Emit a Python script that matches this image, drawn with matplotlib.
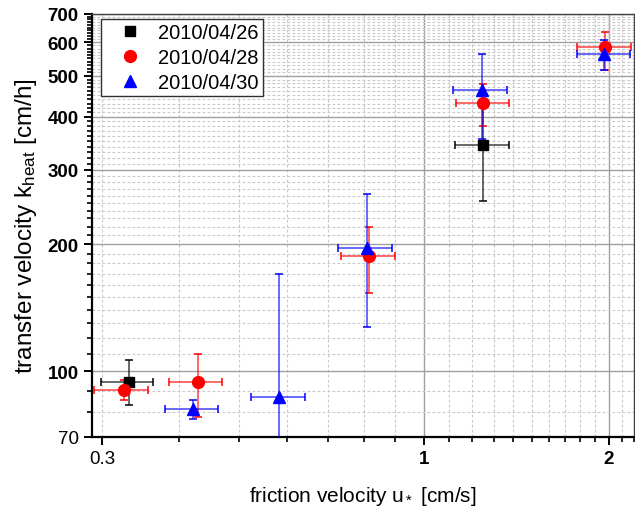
import matplotlib
matplotlib.use('Agg')
import matplotlib.pyplot as plt
import numpy as np

plt.rcParams['font.family'] = ['Liberation Sans', 'DejaVu Sans']
plt.rcParams['mathtext.fontset'] = 'custom'
plt.rcParams['mathtext.rm'] = 'Liberation Sans'
plt.rcParams['mathtext.it'] = 'Liberation Sans'

labels = ['2010/04/26', '2010/04/28', '2010/04/30']

# 2010/04/26
x26 = [0.331, 1.250]
x26_lo = [0.298, 1.124]
x26_hi = [0.363, 1.376]
y26 = [94.6, 342.5]
y26_lo = [83.2, 253.5]
y26_hi = [106.3, 431.5]

# 2010/04/28
x28 = [0.325, 0.429, 0.815, 1.250, 1.972]
x28_lo = [0.291, 0.385, 0.734, 1.127, 1.774]
x28_hi = [0.356, 0.470, 0.897, 1.379, 2.172]
y28 = [90.4, 94.2, 187.5, 430.5, 585.0]
y28_lo = [85.5, 78.2, 153.6, 380.5, 516.0]
y28_hi = [95.3, 109.8, 220.0, 479.0, 636.0]

# 2010/04/30
x30 = [0.421, 0.582, 0.808, 1.243, 1.968]
x30_lo = [0.379, 0.524, 0.726, 1.117, 1.774]
x30_hi = [0.463, 0.641, 0.889, 1.368, 2.166]
y30 = [81.7, 87.2, 196.3, 462.9, 562.0]
y30_lo = [77.1, 4.0, 127.7, 355.3, 517.0]
y30_hi = [85.6, 170.4, 262.4, 562.0, 607.0]

xticks = [0.3, 1, 2]
xticklabels = ['0.3', '1', '2']
yticks = [70, 100, 200, 300, 400, 500, 600, 700]
yticklabels = ['70', '100', '200', '300', '400', '500', '600', '700']

series = [
    (x26, x26_lo, x26_hi, y26, y26_lo, y26_hi, 'black', 's', 6.5),
    (x28, x28_lo, x28_hi, y28, y28_lo, y28_hi, 'red', 'o', 8.5),
    (x30, x30_lo, x30_hi, y30, y30_lo, y30_hi, 'blue', '^', 9),
]

fig = plt.figure(figsize=(6.35, 5.1), dpi=100)
ax = fig.add_axes([92 / 635, 72 / 510, 542 / 635, 423 / 510])
ax.set_xscale('log')
ax.set_yscale('log')

handles = []
for x, xlo, xhi, y, ylo, yhi, col, mk, ms in series:
    x = np.array(x); y = np.array(y)
    xerr = [x - np.array(xlo), np.array(xhi) - x]
    yerr = [y - np.array(ylo), np.array(yhi) - y]
    c = ax.errorbar(x, y, xerr=xerr, yerr=yerr, fmt=mk, color=col, ms=ms,
                    ecolor=col, elinewidth=1.1, capsize=2.8, capthick=1.1, zorder=3)
    for bar in c[2]:
        bar.set_alpha(0.75)
    handles.append(c[0])

ax.set_xlim(0.2886, 2.2)
ax.set_ylim(70, 700)

ax.set_xticks(xticks, xticklabels)
ax.set_xticks([v / 10 for v in range(4, 23) if v not in (10, 20)], minor=True)
ax.set_yticks(yticks, yticklabels)
ax.set_yticks([v for v in range(80, 700, 10) if v not in yticks], minor=True)
ax.xaxis.set_minor_formatter(plt.NullFormatter())
ax.yaxis.set_minor_formatter(plt.NullFormatter())

ax.grid(True, which='major', color='#a0a0a0', lw=1.0, ls='-')
ax.grid(True, which='minor', color='#c8c8c8', lw=0.8, ls=(0, (2.5, 2)))
ax.set_axisbelow(True)
ax.xaxis.get_major_ticks()[0].gridline.set_color('#c8c8c8')
ax.xaxis.get_major_ticks()[0].gridline.set_linestyle((0, (2.5, 2)))
ax.xaxis.get_major_ticks()[0].gridline.set_linewidth(0.8)

ax.tick_params(which='major', direction='out', length=6, width=1.4, labelsize=13.5,
               top=False, right=False)
ax.tick_params(which='minor', direction='out', length=3.8, width=1.2,
               top=False, right=False)
for lab in ax.get_xticklabels() + ax.get_yticklabels():
    lab.set_fontweight('bold')
ax.get_xticklabels()[0].set_fontweight('normal')
ax.get_yticklabels()[0].set_fontweight('normal')

for s in ['left', 'bottom']:
    ax.spines[s].set_linewidth(1.6)
for s in ['top', 'right']:
    ax.spines[s].set_linewidth(1.0)
    ax.spines[s].set_color('#404040')

ax.set_xlabel(r'friction velocity u$_*$ [cm/s]', fontsize=15, labelpad=12)
ax.set_ylabel(r'transfer velocity k$_{\mathrm{heat}}$ [cm/h]', fontsize=17.5, labelpad=6)

leg = ax.legend(handles, labels, loc='upper left', bbox_to_anchor=(0.0166, 0.988),
                borderaxespad=0, fontsize=14.5, frameon=True, fancybox=False,
                edgecolor='#303030', framealpha=1, labelspacing=0.3,
                handletextpad=0.15, borderpad=0.2, handlelength=2.5)
leg.get_frame().set_linewidth(1.0)

plt.savefig('out.png', dpi=100)
